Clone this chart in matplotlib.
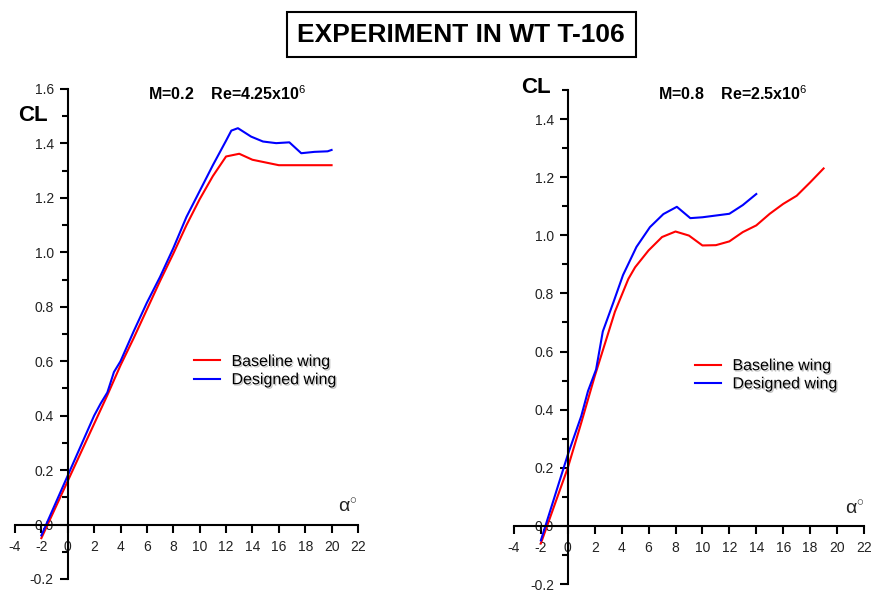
import matplotlib
matplotlib.use("Agg")
import matplotlib.pyplot as plt
import matplotlib.patheffects as pe
from matplotlib.ticker import MultipleLocator, FormatStrFormatter

plt.rcParams['font.family'] = ['Liberation Sans', 'DejaVu Sans']
plt.rcParams['mathtext.fontset'] = 'custom'
plt.rcParams['mathtext.rm'] = 'Liberation Sans'
plt.rcParams['mathtext.it'] = 'Liberation Sans:italic'
plt.rcParams['mathtext.bf'] = 'Liberation Sans:bold'
plt.rcParams['axes.unicode_minus'] = False

# M=0.2, Re=4.25x10^6
alpha_base_m02 = [-2, 0, 1, 2, 3, 4, 5, 6, 7, 8, 9, 10, 11, 12, 13, 14, 15, 16, 17, 18, 19, 20]
cl_base_m02 = [-0.05, 0.16, 0.265, 0.37, 0.475, 0.585, 0.685, 0.79, 0.895, 0.995, 1.10, 1.195,
               1.28, 1.352, 1.362, 1.34, 1.33, 1.32, 1.32, 1.32, 1.32, 1.32]
alpha_des_m02 = [-2, 0, 1, 2, 2.5, 3, 3.5, 4, 5, 6, 7, 8, 9, 10, 11, 12, 12.4, 12.9, 13.9,
                 14.8, 15.8, 16.8, 17.7, 18.7, 19.7, 20]
cl_des_m02 = [-0.04, 0.18, 0.29, 0.40, 0.445, 0.485, 0.56, 0.60, 0.71, 0.815, 0.91, 1.015,
              1.13, 1.225, 1.32, 1.41, 1.447, 1.456, 1.425, 1.407, 1.401, 1.404, 1.364,
              1.369, 1.371, 1.376]

# M=0.8, Re=2.5x10^6
alpha_base_m08 = [-2, 0, 1, 2, 3, 3.5, 4.5, 5, 6, 7, 8, 9, 10, 11, 12, 13, 14, 15, 16, 17, 18, 19]
cl_base_m08 = [-0.06, 0.2, 0.355, 0.515, 0.663, 0.737, 0.85, 0.89, 0.948, 0.994, 1.013, 0.999,
               0.965, 0.966, 0.979, 1.011, 1.034, 1.074, 1.108, 1.136, 1.182, 1.23]
alpha_des_m08 = [-2, 0, 1, 1.5, 2.1, 2.6, 3.4, 4.1, 5.1, 6.1, 7.1, 8.1, 9.1, 10, 11, 12, 13, 14]
cl_des_m08 = [-0.05, 0.245, 0.378, 0.464, 0.538, 0.669, 0.771, 0.863, 0.96, 1.028, 1.073,
              1.098, 1.059, 1.062, 1.068, 1.074, 1.104, 1.142]

labels = ["Baseline wing", "Designed wing"]
shadow = [pe.SimplePatchShadow(offset=(1, -1), shadow_rgbFace='0.6', alpha=0.6), pe.Normal()]


def setup_axis(ax, ymax):
    ax.set_xlim(-4, 22)
    ax.set_ylim(-0.2, ymax)
    ax.spines['left'].set_position(('data', 0))
    ax.spines['bottom'].set_position(('data', 0))
    ax.spines['top'].set_visible(False)
    ax.spines['right'].set_visible(False)
    for s in ['left', 'bottom']:
        ax.spines[s].set_linewidth(1.5)
    ax.patch.set_alpha(0)
    ax.xaxis.set_major_locator(MultipleLocator(2))
    ax.yaxis.set_major_locator(MultipleLocator(0.2))
    ax.yaxis.set_minor_locator(MultipleLocator(0.1))
    ax.yaxis.set_major_formatter(FormatStrFormatter('%.1f'))
    ax.tick_params(axis='x', direction='out', length=6, width=1.5, pad=5, labelsize=10)
    ax.tick_params(axis='y', which='major', direction='out', length=6, width=1.5,
                   pad=4, labelsize=10)
    ax.tick_params(axis='y', which='minor', direction='out', length=4, width=1.5)
    for lab in ax.get_xticklabels() + ax.get_yticklabels():
        lab.set_color('#222222')


fig = plt.figure(figsize=(8.72, 5.92), dpi=100)

ax1 = fig.add_axes([0.0172, 0.0220, 0.3933, 0.8277])
setup_axis(ax1, 1.6)
ax1.plot(alpha_base_m02, cl_base_m02, color='red', lw=1.5, label=labels[0])
ax1.plot(alpha_des_m02, cl_des_m02, color='blue', lw=1.5, label=labels[1])

ax2 = fig.add_axes([0.5894, 0.0135, 0.4014, 0.8345])
setup_axis(ax2, 1.5)
ax2.plot(alpha_base_m08, cl_base_m08, color='red', lw=1.5, label=labels[0])
ax2.plot(alpha_des_m08, cl_des_m08, color='blue', lw=1.5, label=labels[1])

for ax, pos in [(ax1, (0.2133, 0.374)), (ax2, (0.7878, 0.367))]:
    leg = ax.legend(loc='center left', bbox_to_anchor=pos, bbox_transform=fig.transFigure,
                    frameon=False, borderpad=0, handlelength=1.6, handletextpad=0.75,
                    labelspacing=0.2, fontsize=11.5)
    for t in leg.get_texts():
        t.set_path_effects(shadow)

fig.text(0.0378, 0.8057, "CL", fontsize=16, fontweight='bold', ha='center', va='center')
fig.text(0.6147, 0.8514, "CL", fontsize=16, fontweight='bold', ha='center', va='center')
fig.text(0.2610, 0.8424, r"M=0.2    Re=4.25x10$^{6}$", fontsize=11.5, fontweight='bold',
         ha='center', va='center')
fig.text(0.8405, 0.8412, r"M=0.8    Re=2.5x10$^{6}$", fontsize=11.5, fontweight='bold',
         ha='center', va='center')
fig.text(0.399, 0.1436, r"$\mathrm{\alpha}^{\circ}$", fontsize=14, ha='center', va='center',
         color='#222222')
fig.text(0.980, 0.139, r"$\mathrm{\alpha}^{\circ}$", fontsize=14, ha='center', va='center',
         color='#222222')

fig.text(0.529, 0.941, "EXPERIMENT IN WT T-106", fontsize=19, fontweight='bold',
         ha='center', va='center',
         bbox=dict(boxstyle='square,pad=0.4', fc='white', ec='black', lw=1.5))

fig.savefig("out.png", dpi=100)
